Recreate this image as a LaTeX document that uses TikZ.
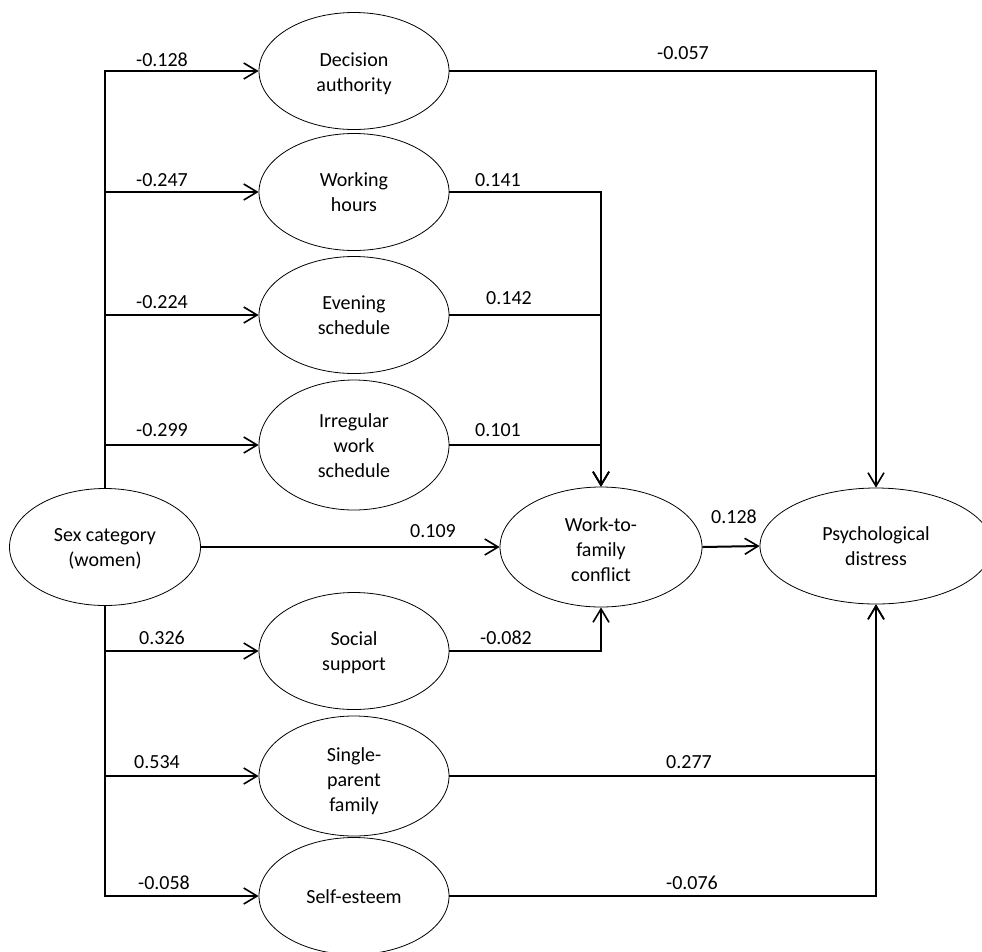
\documentclass[tikz,border=0pt]{standalone}
\usepackage{fontspec}
\setmainfont{Carlito}
\usetikzlibrary{shapes.geometric,arrows.meta}
\newcommand\topstr[1][15pt]{\rule{0pt}{#1}}
\newcommand\botstr{\rule[-4pt]{0pt}{4pt}}
\begin{document}
\begin{tikzpicture}[x=0.75pt,y=-0.75pt,
  font=\fontsize{15}{18.75}\selectfont,
  var/.style={draw=black,line width=0.6pt,ellipse,inner sep=0pt,align=center,
    minimum width=142.5pt,minimum height=87.75pt},
  arr/.style={line width=1.5pt,-{Straight Barb[length=10pt,width=12pt,line width=1.2pt]}},
  coef/.style={inner sep=0pt}]
\useasboundingbox (0,0) rectangle (982,951);
% nodes
\node[var] (da) at (354,71) {\topstr[15.5pt]Decision\\authority\botstr};
\node[var] (wh) at (354,192) {\topstr Working\\hours\botstr};
\node[var] (es) at (354,315) {\topstr Evening\\schedule\botstr};
\node[var,minimum height=97.5pt] (iw) at (354,445) {\topstr Irregular\\work\\schedule\botstr};
\node[var,minimum width=143.25pt] (sex) at (105,547) {\topstr Sex category\\(women)\botstr};
\node[var,minimum width=151.5pt,minimum height=90pt] (wfc) at (601,547) {\topstr[18.5pt]Work-to-\\family\\conflict\botstr};
\node[var,minimum width=174pt,minimum height=87pt] (pd) at (876,546) {\topstr Psychological\\distress\botstr};
\node[var] (ss) at (354,651) {\topstr Social\\support\botstr};
\node[var,minimum height=90pt] (sp) at (354,776) {\topstr[19.5pt]Single-\\parent\\family\botstr};
\node[var] (se) at (354,896) {\topstr Self-esteem\botstr};
% left trunk
\draw[arr] (sex.north) |- (da.west);
\draw[arr] (sex.north) |- (wh.west);
\draw[arr] (sex.north) |- (es.west);
\draw[arr] (sex.north) |- (iw.west);
\draw[arr] (sex.south) |- (ss.west);
\draw[arr] (sex.south) |- (sp.west);
\draw[arr] (sex.south) |- (se.west);
\draw[arr] (sex.east) -- (wfc.west);
% to work-to-family conflict
\draw[arr] (wh.east) -| (wfc.north);
\draw[arr] (es.east) -| (wfc.north);
\draw[arr] (iw.east) -| (wfc.north);
\draw[arr] (ss.east) -| (wfc.south);
% to psychological distress
\draw[arr] (da.east) -| (pd.north);
\draw[arr] (sp.east) -| (pd.south);
\draw[arr] (se.east) -| (pd.south);
\draw[arr] (wfc.east) -- (pd.west);
% coefficients
\node[coef] (c1) at (162,60) {-0.128};
\node[coef] (c2) at (162,180) {-0.247};
\node[coef] (c3) at (162,302) {-0.224};
\node[coef] (c4) at (162,430) {-0.299};
\node[coef] (c5) at (162,638) {0.326};
\node[coef] (c6) at (157,762) {0.534};
\node[coef] (c7) at (164,883) {-0.058};
\node[coef] (c8) at (683,53) {-0.057};
\node[coef] (c9) at (498,180) {0.141};
\node[coef] (c10) at (509,298) {0.142};
\node[coef] (c11) at (498,430) {0.101};
\node[coef] (c12) at (433,531) {0.109};
\node[coef] (c13) at (734,517) {0.128};
\node[coef] (c14) at (506,638) {-0.082};
\node[coef] (c15) at (689,762) {0.277};
\node[coef] (c16) at (692,883) {-0.076};
\end{tikzpicture}
\end{document}
